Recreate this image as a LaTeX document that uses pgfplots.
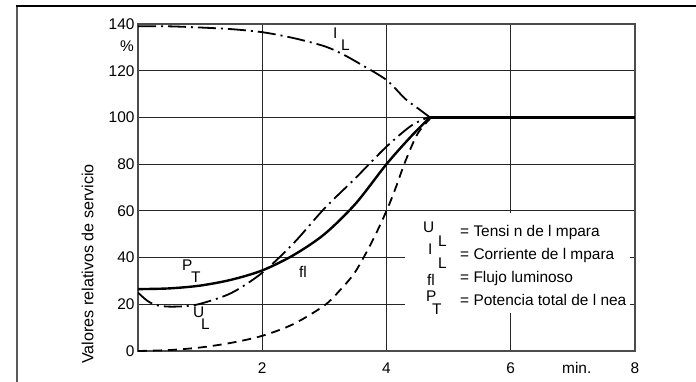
\documentclass[border=0pt]{standalone}
\usepackage{fontspec}
\setmainfont{Liberation Sans}
\usepackage{pgfplots}
\pgfplotsset{compat=1.18}
\newcommand{\fs}{\fontsize{15.5}{18}\selectfont}
\begin{document}
\begin{tikzpicture}
\useasboundingbox (0bp,0bp) rectangle (696bp,-382bp);
\draw[line width=2bp, black!65] (17bp,-6bp) -- (17bp,-382bp);
\draw[line width=2bp] (16bp,-6bp) -- (696bp,-6bp);
\begin{axis}[
 at={(138bp,-351bp)}, anchor=south west, scale only axis,
 width=497bp, height=327bp,
 xmin=0, xmax=8, ymin=0, ymax=140,
 xtick={2,4,6,8}, ytick={0,20,...,140},
 grid=major,
 major grid style={line width=0.9bp, black!85},
 axis line style={line width=1.2bp, black!70},
 major tick length=0pt,
 tick label style={font=\fs},
 /pgf/number format/assume math mode=true,
 xticklabel style={anchor=base, yshift=-22.5bp},
]
% I_L
\addplot[smooth, line width=1.8bp, dash pattern=on 18bp off 5bp on 2bp off 5bp] coordinates {
(0,139) (0.5,139) (1,138.5) (1.5,137.8) (2,136.5) (2.5,134) (3,130.5) (3.3,127) (3.6,122.5) (4,116) (4.3,108) (4.5,104) (4.7,100)};
% U_L
\addplot[smooth, line width=1.8bp, dash pattern=on 18bp off 5bp on 2bp off 5bp] coordinates {
(0,25) (0.15,21.5) (0.3,19.6) (0.5,19) (0.75,19.2) (1,20.2) (1.5,24.8) (2,33.5) (2.5,46) (3,61) (3.5,74) (4,87.5) (4.4,96.5) (4.67,100)};
% fl
\addplot[smooth, line width=1.8bp, dash pattern=on 9bp off 6bp] coordinates {
(0,0) (0.5,0.4) (1,1.5) (1.5,3.5) (2,6.5) (2.5,11.5) (3,19.5) (3.25,26) (3.5,34) (3.78,47.5) (4,60) (4.15,70) (4.3,81) (4.5,93) (4.72,100)};
% P_T
\addplot[smooth, line width=2.4bp] coordinates {
(0,26.5) (0.5,26.8) (1,28) (1.5,30.5) (2,34.5) (2.5,41) (3,50) (3.5,63) (4,80) (4.4,92) (4.7,100)};
\addplot[line width=2.4bp] coordinates {(4.7,100) (8,100)};
\end{axis}
\fill[white] (405bp,-213bp) rectangle (630bp,-313bp);
\begin{scope}[every node/.style={font=\fs, inner sep=0pt, anchor=base west}]
\node at (120bp,-51bp) {\%};
\node at (562bp,-373.5bp) {min.};
\node at (333bp,-38bp) {I};
\node at (341bp,-50bp) {L};
\node at (182bp,-270bp) {P};
\node at (191bp,-282bp) {T};
\node at (193bp,-317bp) {U};
\node at (201bp,-329bp) {L};
\node at (299bp,-277bp) {fl};
% legend
\node at (423bp,-232bp) {U};
\node at (438bp,-246bp) {L};
\node at (428bp,-254bp) {I};
\node at (438bp,-268bp) {L};
\node at (427bp,-285bp) {fl};
\node at (426bp,-301bp) {P};
\node at (432bp,-314bp) {T};
\node at (460bp,-236bp) {= Tensi n de l mpara};
\node at (460bp,-259.5bp) {= Corriente de l mpara};
\node at (460bp,-282.5bp) {= Flujo luminoso};
\node at (460bp,-305bp) {= Potencia total de l nea};
\end{scope}
\node[font=\fontsize{16.2}{19}\selectfont, rotate=90, inner sep=0pt] at (87.5bp,-264bp) {Valores relativos de servicio};
\end{tikzpicture}
\end{document}
